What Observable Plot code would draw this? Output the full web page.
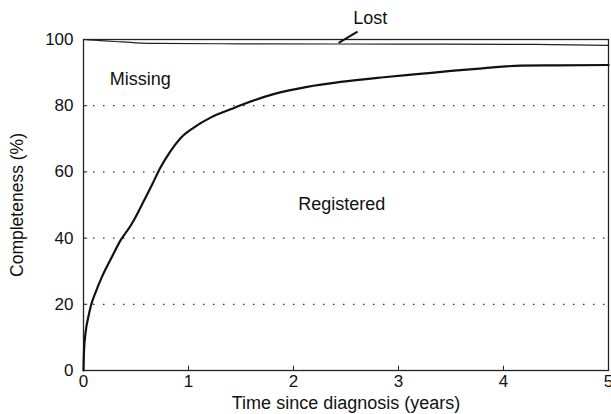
<!DOCTYPE html>
<html>
<head>
<meta charset="utf-8">
<script src="https://cdn.jsdelivr.net/npm/d3@7"></script>
<script src="https://cdn.jsdelivr.net/npm/@observablehq/plot@0.6"></script>
<style>
  html, body { margin: 0; padding: 0; background: #fff; }
  svg { display: block; }
</style>
</head>
<body>
<div id="chart"></div>
<script>
// Registered completeness curve (years, %)
const regT = [0, 0.005, 0.02, 0.045, 0.07, 0.116, 0.179, 0.259, 0.354, 0.45, 0.49, 0.574, 0.654, 0.733, 0.829, 0.924, 1.05, 1.21, 1.40, 1.56, 1.81, 2.13, 2.45, 2.86, 3.2, 3.5, 3.8, 4.16, 4.5, 5.0];
const regV = [0, 6, 11.5, 16, 19.5, 23.7, 28.5, 33.6, 39.4, 43.8, 46, 51.2, 56.2, 61.3, 66.3, 70.2, 73.4, 76.4, 78.9, 80.9, 83.5, 85.7, 87.2, 88.6, 89.6, 90.5, 91.3, 92.1, 92.2, 92.3];
// Lost line (upper boundary of registered + missing)
const lostT = [0, 0.1, 0.3, 0.5, 0.7, 1.5, 3.0, 4.3, 5.0];
const lostV = [100, 99.8, 99.4, 99.0, 98.8, 98.7, 98.6, 98.5, 98.2];
// Axis ticks and grid
const xTicks = [0, 1, 2, 3, 4, 5];
const yTicks = [0, 20, 40, 60, 80, 100];
const gridY = [20, 40, 60, 80];
const innerXTicks = [1, 2, 3, 4];
// Area labels
const labels = [
  {x: 0.54, y: 88, text: "Missing"},
  {x: 2.46, y: 50.3, text: "Registered"},
  {x: 2.73, y: 106.5, text: "Lost"}
];
const leader = [{x1: 2.43, y1: 99.0, x2: 2.61, y2: 102.4}];

const reg = regT.map((t, i) => ({t, v: regV[i]}));
const lost = lostT.map((t, i) => ({t, v: lostV[i]}));

const font = "'Liberation Sans', Arial, Helvetica, sans-serif";

const chart = Plot.plot({
  width: 611,
  height: 414,
  marginLeft: 83,
  marginRight: 3,
  marginTop: 39,
  marginBottom: 44,
  style: {fontFamily: font, fontSize: "17px", color: "#111", background: "#fff", overflow: "visible"},
  x: {domain: [0, 5]},
  y: {domain: [0, 100]},
  marks: [
    Plot.ruleY(gridY, {stroke: "#333", strokeWidth: 1.2, strokeDasharray: "1.5,8.5"}),
    Plot.ruleX(innerXTicks, {y1: 0, y2: 1.3, stroke: "#222", strokeWidth: 1}),
    Plot.ruleY(gridY, {x1: 0, x2: 0.04, stroke: "#222", strokeWidth: 1}),
    Plot.frame({stroke: "#222", strokeWidth: 1.3}),
    Plot.line(lost, {x: "t", y: "v", stroke: "#222", strokeWidth: 1.2, curve: "monotone-x"}),
    Plot.line(reg, {x: "t", y: "v", stroke: "#111", strokeWidth: 2.2, curve: "monotone-x"}),
    Plot.link(leader, {x1: "x1", y1: "y1", x2: "x2", y2: "y2", stroke: "#111", strokeWidth: 2}),
    Plot.text(labels, {x: "x", y: "y", text: "text", fontSize: 18, fill: "#111"}),
    Plot.axisX({ticks: xTicks, tickSize: 0, tickPadding: 4, fontSize: 17, tickFormat: d => d, label: null}),
    Plot.text(["Time since diagnosis (years)"], {frameAnchor: "bottom", dy: 38, fontSize: 18, fill: "#111", textAnchor: "middle"}),
    Plot.axisY({ticks: yTicks, tickSize: 0, tickPadding: 10, fontSize: 17, tickFormat: d => d, label: null}),
    Plot.text(["Completeness (%)"], {frameAnchor: "left", dx: -66, rotate: -90, fontSize: 17.5, fill: "#111", textAnchor: "middle"})
  ]
});
document.getElementById("chart").appendChild(chart);
</script>
</body>
</html>
